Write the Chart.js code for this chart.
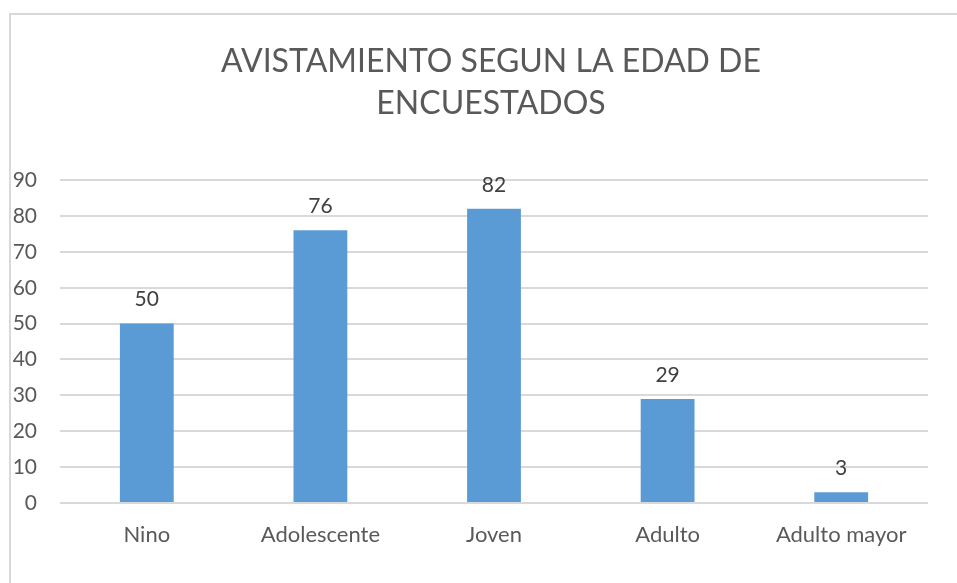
<!DOCTYPE html>
<html>
<head>
<meta charset="utf-8">
<script src="https://cdn.jsdelivr.net/npm/chart.js@4"></script>
<style>
  body { margin: 0; background: #fff; overflow: hidden; }
  #box {
    position: absolute; left: 9px; top: 13px;
    width: 960px; height: 580px;
    border: 2px solid #d9d9d9;
  }
</style>
</head>
<body>
<div id="box"><canvas id="myChart"></canvas></div>
<script>
// Data
const ages = ["Nino", "Adolescente", "Joven", "Adulto", "Adulto mayor"];
const counts = [50, 76, 82, 29, 3];
const yTicks = [0, 10, 20, 30, 40, 50, 60, 70, 80, 90];
const titleLines = ["AVISTAMIENTO SEGUN LA EDAD DE", "ENCUESTADOS"];

const textColor = '#595959';
const fontFamily = 'Lato, "Open Sans", sans-serif';

// simple value labels above each bar
const valueLabels = {
  id: 'valueLabels',
  afterDatasetsDraw(chart) {
    const ctx = chart.ctx;
    const meta = chart.getDatasetMeta(0);
    ctx.save();
    ctx.fillStyle = '#404040';
    ctx.font = '21px ' + fontFamily;
    ctx.textAlign = 'center';
    ctx.textBaseline = 'middle';
    meta.data.forEach((bar, i) => {
      ctx.fillText(counts[i], bar.x, bar.y - 24);
    });
    ctx.restore();
  }
};

const ctx = document.getElementById('myChart').getContext('2d');
const myChart = new Chart(ctx, {
  type: 'bar',
  data: {
    labels: ages,
    datasets: [{
      data: counts,
      backgroundColor: '#5b9bd5',
      categoryPercentage: 1,
      barPercentage: 0.31,
    }]
  },
  options: {
    responsive: true,
    maintainAspectRatio: false,
    animation: false,
    plugins: {
      legend: { display: false },
      tooltip: { enabled: false },
      title: {
        display: true,
        text: titleLines,
        color: textColor,
        font: { family: fontFamily, size: 32, weight: 'normal', lineHeight: 1.33 },
        padding: { top: 25, bottom: 55 }
      }
    },
    scales: {
      x: {
        grid: { display: false },
        border: { display: false },
        ticks: {
          color: textColor,
          padding: 11,
          maxRotation: 0,
          font: { family: fontFamily, size: 22 }
        },
        afterFit(scale) { scale.height = 92; }
      },
      y: {
        min: 0,
        max: 90,
        afterBuildTicks(scale) {
          scale.ticks = yTicks.map(v => ({ value: v }));
        },
        grid: { color: '#d9d9d9', lineWidth: 2, drawTicks: false },
        border: { display: false },
        ticks: {
          color: textColor,
          padding: 23,
          font: { family: fontFamily, size: 21 }
        },
        afterFit(scale) { scale.width = 49; }
      },
      // empty right axis, only keeps space at the right side
      yRight: {
        position: 'right',
        display: true,
        grid: { display: false },
        border: { display: false },
        ticks: { display: false },
        afterFit(scale) { scale.width = 43; }
      }
    }
  },
  plugins: [valueLabels]
});
</script>
</body>
</html>
